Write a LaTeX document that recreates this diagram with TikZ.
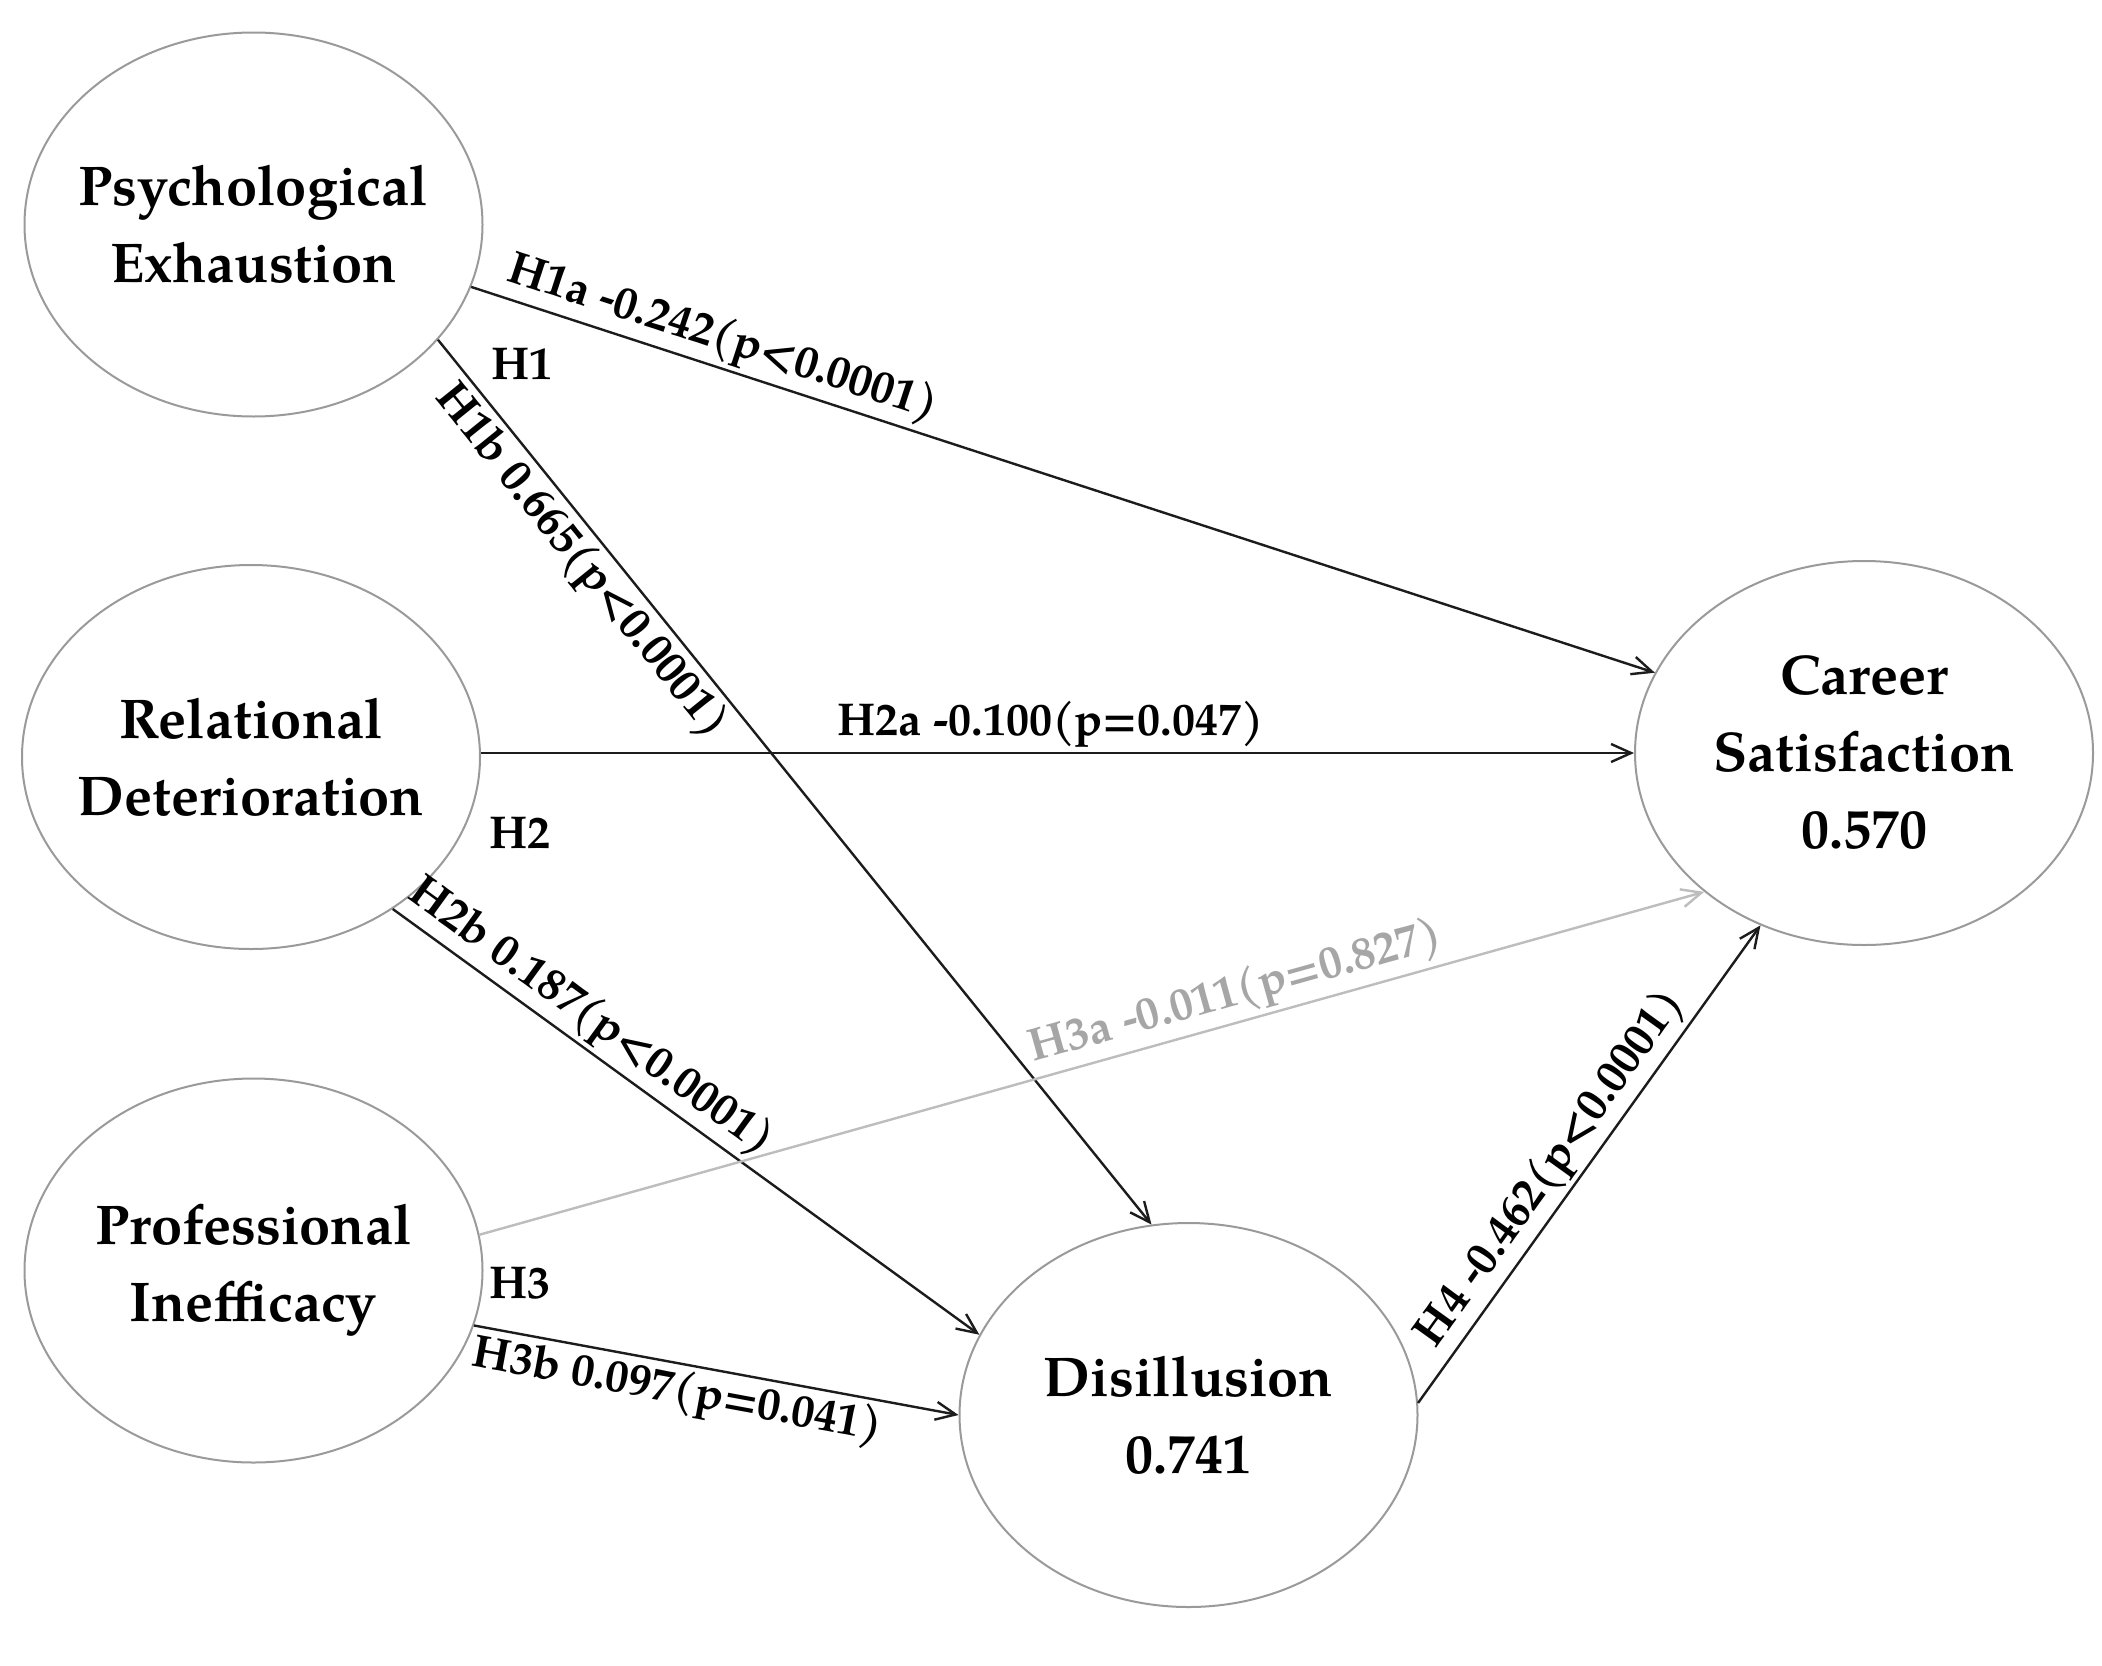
\documentclass[tikz,border=0pt]{standalone}
\usepackage{fontspec}
\setmainfont{TeX Gyre Pagella}
\usetikzlibrary{arrows.meta,shapes.geometric}
\definecolor{ringgray}{HTML}{9A9A9A}
\definecolor{inkline}{HTML}{1C1C1C}
\definecolor{fadegray}{HTML}{BDBDBD}
\definecolor{fadetext}{HTML}{A6A6A6}
\begin{document}
\begin{tikzpicture}[x=0.5pt,y=-0.5pt,
  construct/.style={ellipse, draw=ringgray, line width=1pt, minimum width=229pt,
    minimum height=192pt, inner sep=0pt},
  constext/.style={align=center, inner sep=0pt,
    font=\fontsize{28}{38.5}\selectfont\bfseries, text=black},
  link/.style={draw=inkline, line width=1.2pt,
    -{Straight Barb[length=10pt,width=9pt,line width=1.2pt]}},
  weaklink/.style={draw=fadegray, line width=1.2pt,
    -{Straight Barb[length=10pt,width=9pt,line width=1.2pt]}},
  coef/.style={font=\fontsize{23}{27}\selectfont\bfseries, sloped, inner sep=2pt, text=black},
  hyp/.style={font=\fontsize{23}{27}\selectfont\bfseries, inner sep=0pt, text=black}]
\useasboundingbox (0,0) rectangle (2102,1665);
\fill[white] (0,0) rectangle (2102,1665);

\node[construct, label={[constext]center:{Psychological\\Exhaustion}}] (pe) at (253.5,224.5) {};
\node[construct, label={[constext]center:{Relational\\Deterioration}}] (rd) at (251,757) {};
\node[construct, label={[constext]center:{Professional\\Inefficacy}}] (pi) at (253.5,1270.5) {};
\node[construct, label={[constext]center:{Career\\Satisfaction\\0.570}}] (cs) at (1864,753) {};
\node[construct, label={[constext]center:{Disillusion\\0.741}}] (di) at (1188.5,1415) {};

\node[hyp] (h1) at (522,364) {H1};
\node[hyp] (h2) at (520,833) {H2};
\node[hyp] (h3) at (520,1283) {H3};

\draw[link] (pe.-16.2) -- node[coef, pos=0.205, above] (l1a) {H1a -0.242(p<0.0001)} (cs.159.75);
\draw[link] (pe.-32.1) -- node[coef, pos=0.231, below] (l1b) {H1b 0.665(p<0.0001)} (di.101.6);
\draw[link] (rd.east |- cs.west) -- node[coef, pos=0.494, above] (l2a) {H2a -0.100(p=0.047)} (cs.west);
\draw[link] (rd.-47.4) -- node[coef, pos=0.309, above] (l2b) {H2b 0.187(p<0.0001)} (di.159.2);
\draw[weaklink] (pi.9.9) -- node[coef, pos=0.624, above, text=fadetext] (l3a) {H3a -0.011(p=0.827)} (cs.221.4);
\draw[link] (pi.-14.25) -- node[coef, pos=0.43, below] (l3b) {H3b 0.097(p=0.041)} (di.180);
\draw[link] (di.3.3) -- node[coef, pos=0.455, above] (l4) {H4 -0.462(p<0.0001)} (cs.239.1);
\end{tikzpicture}
\end{document}
